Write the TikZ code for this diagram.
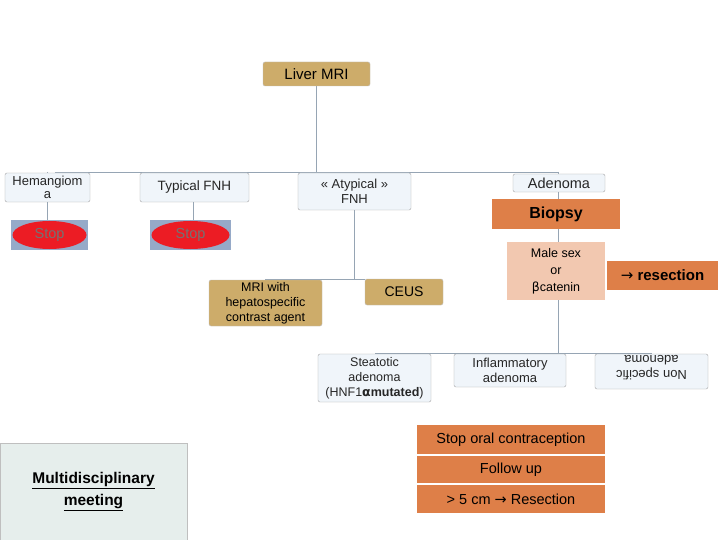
\documentclass[tikz,border=0pt]{standalone}
\usetikzlibrary{shapes.geometric}
\usepackage{fontspec}
\setmainfont{Liberation Sans}
\newfontfamily\dejavu{DejaVu Sans}
\begin{document}
\begin{tikzpicture}[x=1pt,y=-1pt,
  lbox/.style={draw=gray!70, fill={rgb,255:red,240;green,245;blue,250}, rounded corners=2pt, inner sep=0pt, align=center, font=\fontsize{13.5}{14}\selectfont, text=black!85},
  tan/.style={draw=gray!50, fill={rgb,255:red,205;green,172;blue,106}, rounded corners=2pt, inner sep=0pt, align=center, font=\fontsize{13.5}{14}\selectfont},
  orng/.style={fill={rgb,255:red,222;green,127;blue,72}, inner sep=0pt, align=center, font=\fontsize{14.5}{16}\selectfont},
  stopbg/.style={fill={rgb,255:red,150;green,170;blue,200}, inner sep=0pt},
  stopel/.style={ellipse, fill={rgb,255:red,236;green,28;blue,36}, inner sep=0pt, font=\fontsize{14.5}{16}\selectfont, text=black!55},
  ln/.style={draw={rgb,255:red,150;green,165;blue,180}, line width=0.8pt}]
\useasboundingbox (0,0) rectangle (720,540);
\fill[white] (0,0) rectangle (720,540);
% connectors first
\coordinate (hl) at (55,172); \coordinate (hr) at (558,172);
\coordinate (m1) at (316,172);
\draw[ln] (316,86) -- (m1);
\draw[ln] (hl) -- (hr);
\draw[ln] (47,172) -- (47,235);
\draw[ln] (193,172) -- (193,235);
\draw[ln] (354,172) -- (354,279);
\draw[ln] (265,279) -- (365,279);
\draw[ln] (558,172) -- (558,353);
\draw[ln] (375,353) -- (652,353);
% nodes
\node[tan, minimum width=107, minimum height=24, font=\fontsize{15}{16}\selectfont] (mri) at (316.5,74) {Liver MRI};
\node[lbox, minimum width=85, minimum height=29, font=\fontsize{13}{13}\selectfont] (hem) at (47.5,187.5) {Hemangiom\\a};
\node[lbox, minimum width=109, minimum height=29] (tfnh) at (194.5,187.5) {Typical FNH};
\node[lbox, minimum width=113, minimum height=37, font=\fontsize{13}{14.5}\selectfont] (afnh) at (354.5,191.5) {« Atypical »\\FNH};
\node[lbox, minimum width=92, minimum height=18, font=\fontsize{14.5}{15}\selectfont] (aden) at (559,183) {Adenoma};
\node[stopbg, minimum width=77, minimum height=30] (s1bg) at (49.5,235) {};
\node[stopel, minimum width=74, minimum height=28] (s1) at (s1bg) {Stop};
\node[stopbg, minimum width=81, minimum height=30] (s2bg) at (190.5,235) {};
\node[stopel, minimum width=78, minimum height=28] (s2) at (s2bg) {Stop};
\node[tan, minimum width=113, minimum height=46, font=\fontsize{12.5}{15}\selectfont] (mrih) at (265.5,303) {MRI with\\hepatospecific\\contrast agent};
\node[tan, minimum width=78, minimum height=26, font=\fontsize{14}{15}\selectfont] (ceus) at (404,292) {CEUS};
\node[orng, minimum width=128, minimum height=30, font=\fontsize{16}{17}\bfseries] (bio) at (556,214) {Biopsy};
\node[fill={rgb,255:red,242;green,200;blue,176}, inner sep=0pt, align=center, minimum width=98, minimum height=58, font=\fontsize{12.5}{17}\selectfont] (male) at (556,271) {Male sex\\or\\{\dejavu β}catenin};
\node[orng, minimum width=111, minimum height=29, font=\fontsize{15}{16}\bfseries] (res) at (662.5,275.5) {{\dejavu\mdseries →} resection};
\node[lbox, minimum width=113, minimum height=48, font=\fontsize{12.5}{15}\selectfont] (ste) at (374.5,378) {Steatotic\\adenoma\\(HNF1\textbf{{\dejavu α}mutated})};
\node[lbox, minimum width=112, minimum height=33, font=\fontsize{13}{15}\selectfont] (inf) at (510,370.5) {Inflammatory\\adenoma};
\node[lbox, minimum width=113, minimum height=35] (ns) at (651.5,371.5) {};
\node[rotate=180, align=center, font=\fontsize{13}{15}\selectfont, text=black!85] (nst) at (651.5,368) {Non specific\\adenoma};
\node[orng, minimum width=188, minimum height=29] (soc) at (511,439.5) {Stop oral contraception};
\node[orng, minimum width=188, minimum height=27] (fu) at (511,469.5) {Follow up};
\node[orng, minimum width=188, minimum height=28] (gt) at (511,499) {> 5 cm {\dejavu →} Resection};
\node[draw=gray!50, fill={rgb,255:red,230;green,238;blue,236}, minimum width=187, minimum height=97, inner sep=0pt, align=center, font=\fontsize{15.5}{22}\bfseries] (mdm) at (93.5,491.5) {\underline{Multidisciplinary}\\\underline{meeting}};
\end{tikzpicture}
\end{document}
